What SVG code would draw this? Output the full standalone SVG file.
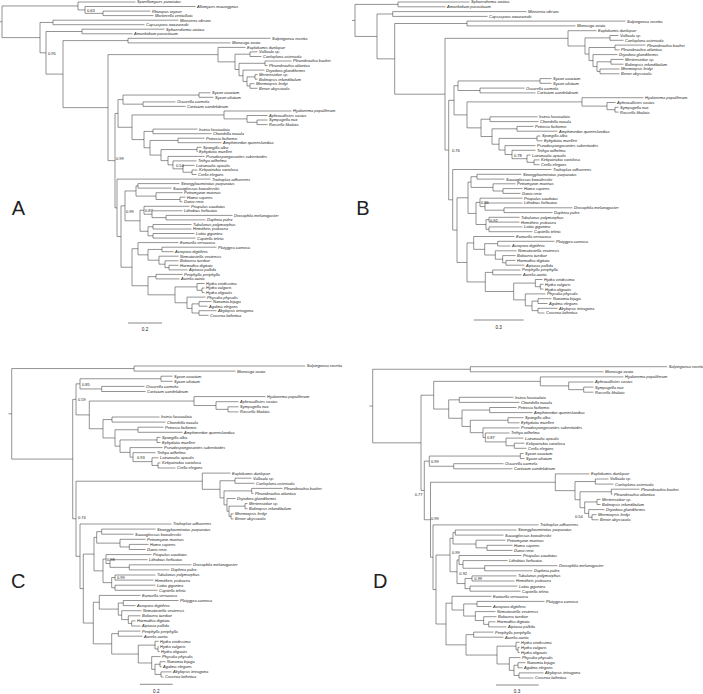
<svg xmlns="http://www.w3.org/2000/svg" width="703" height="694" viewBox="0 0 703 694">
<style>
.e path{fill:none;stroke:#3a3a3a;stroke-width:0.55}
text{font-family:"Liberation Sans",Arial,sans-serif;fill:#222}
.sp text{font-size:4px;font-style:italic}
.bs text{font-size:4px}
.sc text{font-size:4.6px;text-anchor:middle}
.sc path{stroke:#3a3a3a;stroke-width:0.6}
.pl text{font-size:20px;text-anchor:middle}
</style>
<rect width="703" height="694" fill="#fff"/>
<g class="e" id="edges">
<path id="edgesA" d="M0 21.8H2M2 5.96V37.63M2 5.96H78M2 37.63H40M78 2V9.93M78 2H135.5M78 9.93H85M85 6.5V13.35M85 6.5H195.5M85 13.35H103M103 11.1V15.6M103 11.1H150.5M103 15.6H153.5M40 22.45V52.81M40 22.45H53M40 52.81H46M53 20.2V24.7M53 20.2H178.5M53 24.7H144.5M46 31.5V74.12M46 31.5H82M46 74.12H63M82 29.2V33.8M82 29.2H164.5M82 33.8H132.5M63 40.6V107.64M63 40.6H128M63 107.64H108M128 38.3V42.9M128 38.3H270.5M128 42.9H230.5M108 54.64V160.64M108 54.64H218M108 160.64H115M218 47.4V61.87M218 47.4H245.5M218 61.87H235M235 54.2V69.54M235 54.2H250M235 69.54H239M250 51.9V56.5M250 51.9H257.5M250 56.5H261.5M239 63.3V75.78M239 63.3H265M239 75.78H243M265 61V65.6M265 61H291.5M265 65.6H267.5M243 70.1V81.45M243 70.1H264.5M243 81.45H247M247 76.9V86M247 76.9H255M247 86H250M255 74.6V79.2M255 74.6H257.5M255 79.2H257.5M250 83.7V88.3M250 83.7H254.5M250 88.3H257.5M115 113.44V207.83M115 113.44H118M115 207.83H117M118 99.6V127.27M118 99.6H123M118 127.27H132M123 95.05V104.15M123 95.05H199M123 104.15H143M199 92.8V97.3M199 92.8H210.5M199 97.3H213.5M143 101.9V106.4M143 101.9H175.5M143 106.4H185.5M132 114.95V139.59M132 114.95H224M132 139.59H144M224 111V118.9M224 111H291.5M224 118.9H247M247 115.5V122.3M247 115.5H267.5M247 122.3H257M257 120V124.6M257 120H267.5M257 124.6H267.5M144 131.4V147.77M144 131.4H153M144 147.77H150M153 129.1V133.7M153 129.1H197.5M153 133.7H211.5M150 140.45V155.09M150 140.45H178M150 155.09H161M178 138.2V142.7M178 138.2H204.5M178 142.7H221.5M161 149.55V160.63M161 149.55H197M161 160.63H168M197 147.3V151.8M197 147.3H201.5M197 151.8H197.5M168 156.4V164.86M168 156.4H204.5M168 164.86H173M173 160.9V168.83M173 160.9H196.5M173 168.83H183M183 165.4V172.25M183 165.4H194.5M183 172.25H192M192 170V174.5M192 170H197.5M192 174.5H196.5M117 179.1V236.55M117 179.1H210.5M117 236.55H121M121 205.87V267.23M121 205.87H125M121 267.23H132M125 190.98V220.77M125 190.98H136M125 220.77H140M136 185.85V196.1M136 185.85H138M136 196.1H156M138 183.6V188.1M138 183.6H179.5M138 188.1H171.5M156 192.7V199.5M156 192.7H182.5M156 199.5H180M180 197.2V201.8M180 197.2H185.5M180 201.8H182.5M140 210.26V231.28M140 210.26H144M140 231.28H148M144 206.3V214.23M144 206.3H189.5M144 214.23H152M152 210.8V217.65M152 210.8H182.5M152 217.65H166M166 215.4V219.9M166 215.4H232.5M166 219.9H205.5M148 226.75V235.8M148 226.75H153M148 235.8H153M153 224.5V229M153 224.5H191.5M153 229H191.5M153 233.5V238.1M153 233.5H194.5M153 238.1H195.5M132 248.71V285.74M132 248.71H138M132 285.74H148M138 242.6V254.83M138 242.6H178.5M138 254.83H148M148 249.45V260.2M148 249.45H162M148 260.2H159M162 247.2V251.7M162 247.2H216.5M162 251.7H173.5M159 256.2V264.2M159 256.2H178.5M159 264.2H165M165 260.8V267.6M165 260.8H178.5M165 267.6H169M169 265.3V269.9M169 265.3H178.5M169 269.9H187.5M148 276.65V294.84M148 276.65H156M148 294.84H175M156 274.4V278.9M156 274.4H182.5M156 278.9H179.5M175 286.9V302.78M175 286.9H197M175 302.78H187M197 283.5V290.3M197 283.5H204.5M197 290.3H202M202 288V292.6M202 288H204.5M202 292.6H204.5M187 297.1V308.45M187 297.1H205.5M187 308.45H192M192 303.9V313M192 303.9H199M192 313H199M199 301.6V306.2M199 301.6H211.5M199 306.2H207.5M199 310.7V315.3M199 310.7H216.5M199 315.3H208.5"/>
<path id="edgesB" d="M352 20.41H355M355 4.4V36.43M355 4.4H398M355 36.43H377M398 2V6.8M398 2H469.5M398 6.8H445.5M377 14V58.85M377 14H392.7M377 58.85H394.7M392.7 11.6V16.4M392.7 11.6H526.5M392.7 16.4H487.5M394.7 23.5V94.2M394.7 23.5H467M394.7 94.2H445M467 21.1V25.9M467 21.1H625.5M467 25.9H575.5M445 38.34V150.05M445 38.34H568M445 150.05H448.7M568 30.7V45.98M568 30.7H596.5M568 45.98H585M585 37.9V54.05M585 37.9H610M585 54.05H589M610 35.5V40.3M610 35.5H618.5M610 40.3H623.5M589 47.5V60.6M589 47.5H615M589 60.6H593M615 45.1V49.9M615 45.1H645.5M615 49.9H619.5M593 54.6V66.6M593 54.6H617.5M593 66.6H597M597 61.8V71.4M597 61.8H611M597 71.4H600M611 59.4V64.2M611 59.4H623.5M611 64.2H623.5M600 69V73.8M600 69H619.5M600 73.8H619.5M448.7 100.3V199.8M448.7 100.3H454M448.7 199.8H452.7M454 85.73V114.88M454 85.73H458M454 114.88H467M458 80.95V90.5M458 80.95H540M458 90.5H480M540 78.6V83.3M540 78.6H551.5M540 83.3H551.5M480 88.1V92.9M480 88.1H524.5M480 92.9H535.5M467 101.9V127.86M467 101.9H582M467 127.86H481M582 97.7V106.1M582 97.7H643.5M582 106.1H607M607 102.5V109.7M607 102.5H615.5M607 109.7H615M615 107.3V112.1M615 107.3H618.5M615 112.1H618.5M481 119.2V136.51M481 119.2H490M481 136.51H492M490 116.8V121.6M490 116.8H537.5M490 121.6H538.5M492 128.8V144.23M492 128.8H517M492 144.23H499M517 126.4V131.2M517 126.4H533.5M517 131.2H557.5M499 138.4V150.05M499 138.4H537M499 150.05H505M537 136V140.8M537 136H540.5M537 140.8H542.5M505 145.6V154.5M505 145.6H535.5M505 154.5H512M512 150.3V158.7M512 150.3H535.5M512 158.7H527M527 155.1V162.3M527 155.1H530.5M527 162.3H534M534 159.9V164.7M534 159.9H539.5M534 164.7H539.5M452.7 169.5V230.09M452.7 169.5H551.5M452.7 230.09H457M457 197.75V262.43M457 197.75H468M457 262.43H467M468 182.05V213.45M468 182.05H471M468 213.45H476M471 176.7V187.4M471 176.7H477M471 187.4H493M477 174.3V179.1M477 174.3H521.5M477 179.1H504.5M493 183.8V191M493 183.8H515.5M493 191H503M503 188.6V193.4M503 188.6H522.5M503 193.4H520.5M476 202.4V224.5M476 202.4H480M476 224.5H486M480 198.2V206.6M480 198.2H522.5M480 206.6H485M485 203V210.2M485 203H522.5M485 210.2H504M504 207.8V212.6M504 207.8H572.5M504 212.6H552.5M486 219.7V229.3M486 219.7H489M486 229.3H489M489 217.3V222.1M489 217.3H519.5M489 222.1H519.5M489 226.9V231.7M489 226.9H522.5M489 231.7H532.5M467 242.91V281.95M467 242.91H473.7M467 281.95H485.3M473.7 236.5V249.33M473.7 236.5H514.5M473.7 249.33H484.7M484.7 243.65V255M484.7 243.65H497.7M484.7 255H495.3M497.7 241.3V246M497.7 241.3H554.5M497.7 246H510.5M495.3 250.8V259.2M495.3 250.8H516.5M495.3 259.2H502.7M502.7 255.6V262.8M502.7 255.6H515.5M502.7 262.8H506M506 260.4V265.2M506 260.4H515.5M506 265.2H524.5M485.3 272.4V291.5M485.3 272.4H492.7M485.3 291.5H513.7M492.7 270V274.8M492.7 270H520.5M492.7 274.8H521.5M513.7 283.1V299.89M513.7 283.1H535.3M513.7 299.89H525.3M535.3 279.5V286.7M535.3 279.5H542.5M535.3 286.7H540.3M540.3 284.3V289.1M540.3 284.3H543.5M540.3 289.1H543.5M525.3 293.9V305.88M525.3 293.9H545.5M525.3 305.88H532M532 301.1V310.65M532 301.1H538M532 310.65H538M538 298.7V303.5M538 298.7H551.5M538 303.5H547.5M538 308.3V313M538 308.3H557.5M538 313H544.5"/>
<path id="edgesC" d="M8.5 413.81H11.7M11.7 368.55V459.07M11.7 368.55H134M11.7 459.07H72.7M134 366V371.1M134 366H305.2M134 371.1H235.5M72.7 399.38V518.76M72.7 399.38H76M72.7 518.76H76M76 383.85V414.9M76 383.85H80M76 414.9H89.3M80 378.75V388.95M80 378.75H161M80 388.95H101.7M161 376.2V381.3M161 376.2H172.5M161 381.3H172.5M101.7 386.4V391.5M101.7 386.4H144.5M101.7 391.5H145.5M89.3 401.06V428.75M89.3 401.06H194M89.3 428.75H103M194 396.6V405.53M194 396.6H265.5M194 405.53H216M216 401.7V409.35M216 401.7H238.5M216 409.35H228M228 406.8V411.9M228 406.8H238.5M228 411.9H238.5M103 419.55V437.96M103 419.55H112M103 437.96H115M112 417V422.1M112 417H159.5M112 422.1H165.5M115 429.75V446.16M115 429.75H138M115 446.16H120M138 427.2V432.3M138 427.2H163.5M138 432.3H182.5M120 439.95V452.38M120 439.95H157M120 452.38H130M157 437.4V442.5M157 437.4H160.5M157 442.5H160.5M130 447.6V457.16M130 447.6H162.5M130 457.16H133M133 452.7V461.63M133 452.7H155.5M133 461.63H152M152 457.8V465.45M152 457.8H158.5M152 465.45H158M158 462.9V468M158 462.9H160.5M158 468H175.5M76 481.21V556.3M76 481.21H202.3M76 556.3H80M202.3 473.1V489.32M202.3 473.1H230.5M202.3 489.32H220M220 480.75V497.89M220 480.75H235M220 497.89H224M235 478.2V483.3M235 478.2H251.5M235 483.3H254.5M224 490.9V504.88M224 490.9H251.7M224 504.88H227M251.7 488.4V493.4M251.7 488.4H282.5M251.7 493.4H253.5M227 498.5V511.25M227 498.5H235.5M227 511.25H229M229 506.15V516.35M229 506.15H245M229 516.35H231M245 503.6V508.7M245 503.6H247.5M245 508.7H247.5M231 513.8V518.9M231 513.8H233.5M231 518.9H233.5M80 524V588.59M80 524H171.5M80 588.59H83.3M83.3 554.12V623.05M83.3 554.12H94M83.3 623.05H93.3M94 537.39V570.86M94 537.39H96.7M94 570.86H103M96.7 531.65V543.13M96.7 531.65H101.7M96.7 543.13H120M101.7 529.1V534.2M101.7 529.1H155.5M101.7 534.2H133.5M120 539.3V546.95M120 539.3H145.5M120 546.95H129.3M129.3 544.4V549.5M129.3 544.4H148.5M129.3 549.5H145.5M103 559.06V582.65M103 559.06H106M103 582.65H111.7M106 554.6V563.53M106 554.6H151.5M106 563.53H110M110 559.7V567.35M110 559.7H147.5M110 567.35H129.3M129.3 564.8V569.9M129.3 564.8H191.5M129.3 569.9H169.5M111.7 577.55V587.75M111.7 577.55H115M111.7 587.75H115M115 575V580.1M115 575H155.5M115 580.1H153.5M115 585.2V590.3M115 585.2H155.5M115 590.3H157.5M93.3 602.25V643.85M93.3 602.25H99.3M93.3 643.85H111.7M99.3 595.4V609.1M99.3 595.4H140.5M99.3 609.1H118.3M118.3 603.05V615.16M118.3 603.05H123.3M118.3 615.16H121.7M123.3 600.5V605.6M123.3 600.5H178.5M123.3 605.6H135.5M121.7 610.7V619.63M121.7 610.7H141.5M121.7 619.63H128.3M128.3 615.8V623.45M128.3 615.8H140.5M128.3 623.45H131.7M131.7 620.9V626M131.7 620.9H135.5M131.7 626H140.5M111.7 633.65V654.05M111.7 633.65H118.3M111.7 654.05H138.3M118.3 631.1V636.2M118.3 631.1H140.5M118.3 636.2H142.5M138.3 645.13V662.98M138.3 645.13H155M138.3 662.98H151.7M155 641.3V648.95M155 641.3H158.5M155 648.95H158M158 646.4V651.5M158 646.4H158.5M158 651.5H159.5M151.7 656.6V669.35M151.7 656.6H160.5M151.7 669.35H155M155 664.25V674.45M155 664.25H160M155 674.45H161M160 661.7V666.8M160 661.7H165.5M160 666.8H161.5M161 671.9V677M161 671.9H171.5M161 677H163.5"/>
<path id="edgesD" d="M369.3 406.04H372.7M372.7 369.25V442.83M372.7 369.25H470.3M372.7 442.83H421M470.3 366.7V371.8M470.3 366.7H667.2M470.3 371.8H603.5M421 395.2V490.45M421 395.2H433.7M421 490.45H424.3M433.7 381.36V409.05M433.7 381.36H540.3M433.7 409.05H448.7M540.3 376.9V385.83M540.3 376.9H623.5M540.3 385.83H568.7M568.7 382V389.65M568.7 382H593.5M568.7 389.65H583.7M583.7 387.1V392.2M583.7 387.1H593.5M583.7 392.2H593.5M448.7 399.85V418.26M448.7 399.85H459.3M448.7 418.26H462M459.3 397.3V402.4M459.3 397.3H513.5M459.3 402.4H519.5M462 410.05V426.46M462 410.05H489.7M462 426.46H470.3M489.7 407.5V412.6M489.7 407.5H516.5M489.7 412.6H532.5M470.3 420.25V432.68M470.3 420.25H508M470.3 432.68H483M508 417.7V422.8M508 417.7H523.5M508 422.8H519.5M483 427.9V437.46M483 427.9H519.5M483 437.46H485.3M485.3 433V441.93M485.3 433H509.5M485.3 441.93H506M506 438.1V445.75M506 438.1H523.5M506 445.75H514.3M514.3 443.2V448.3M514.3 443.2H524.5M514.3 448.3H526.5M424.3 461.15V519.74M424.3 461.15H429.3M424.3 519.74H430.5M429.3 456.05V466.25M429.3 456.05H520.3M429.3 466.25H453.7M520.3 453.5V458.6M520.3 453.5H523.5M520.3 458.6H524.5M453.7 463.7V468.8M453.7 463.7H503.5M453.7 468.8H512.5M430.5 482.27V557.21M430.5 482.27H555.3M430.5 557.21H433M555.3 473.9V490.64M555.3 473.9H589.5M555.3 490.64H575M575 481.55V499.72M575 481.55H595.3M575 499.72H580M595.3 479V484.1M595.3 479H608.5M595.3 484.1H613.5M580 491.75V507.69M580 491.75H611.3M580 507.69H584.7M611.3 489.2V494.3M611.3 489.2H639.5M611.3 494.3H612.5M584.7 501.95V513.43M584.7 501.95H597M584.7 513.43H588.7M597 499.4V504.5M597 499.4H600.5M597 504.5H600.5M588.7 509.6V517.25M588.7 509.6H604.5M588.7 517.25H592M592 514.7V519.8M592 514.7H596.5M592 519.8H598.5M433 524.9V589.52M433 524.9H538.5M433 589.52H436M436 555.03V624M436 555.03H450M436 624H446M450 538.29V571.76M450 538.29H453M450 571.76H457M453 532.55V544.03M453 532.55H455.3M453 544.03H476M455.3 530V535.1M455.3 530H516.5M455.3 535.1H503.5M476 540.2V547.85M476 540.2H505.5M476 547.85H487M487 545.3V550.4M487 545.3H512.5M487 550.4H512.5M457 559.96V583.55M457 559.96H459M457 583.55H465M459 555.5V564.43M459 555.5H521.5M459 564.43H463M463 560.6V568.25M463 560.6H507.5M463 568.25H484.7M484.7 565.7V570.8M484.7 565.7H557.5M484.7 570.8H532.5M465 578.45V588.65M465 578.45H472M465 588.65H470M472 575.9V581M472 575.9H516.5M472 581H514.5M470 586.1V591.2M470 586.1H517.5M470 591.2H520.5M446 603.15V644.85M446 603.15H452M446 644.85H466M452 596.3V610M452 596.3H491.5M452 610H463.7M463.7 603.95V616.06M463.7 603.95H477M463.7 616.06H475.3M477 601.4V606.5M477 601.4H544.5M477 606.5H491.5M475.3 611.6V620.53M475.3 611.6H495.5M475.3 620.53H483.7M483.7 616.7V624.35M483.7 616.7H496.5M483.7 624.35H488.7M488.7 621.8V626.9M488.7 621.8H495.5M488.7 626.9H506.5M466 634.65V655.05M466 634.65H473.7M466 655.05H497M473.7 632.1V637.2M473.7 632.1H493.5M473.7 637.2H503.5M497 646.13V663.98M497 646.13H516M497 663.98H509.3M516 642.3V649.95M516 642.3H519.5M516 649.95H518M518 647.4V652.5M518 647.4H519.5M518 652.5H519.5M509.3 657.6V670.35M509.3 657.6H520.5M509.3 670.35H514M514 665.25V675.45M514 665.25H518M514 675.45H519M518 662.7V667.8M518 662.7H525.5M518 667.8H522.5M519 672.9V678M519 672.9H543.5M519 678H533.5"/>
</g>
<g class="sp" id="leavesA">
<g id="a1"><text x="137" y="3.4">Spizellomyces punctatus</text></g>
<g id="a2"><text x="197" y="7.9">Allomyces macrogynus</text></g>
<g id="a3"><text x="152" y="12.5">Rhizopus oryzae</text></g>
<g id="a4"><text x="155" y="17">Mortierella verticillata</text></g>
<g id="a5"><text x="180" y="21.6">Ministeria vibrans</text></g>
<g id="a6"><text x="146" y="26.1">Capsaspora owczarzaki</text></g>
<g id="a7"><text x="166" y="30.6">Sphaeroforma arctica</text></g>
<g id="a8"><text x="134" y="35.2">Amoebidium parasiticum</text></g>
<g id="a9"><text x="272" y="39.7">Salpingoeca rosetta</text></g>
<g id="a10"><text x="232" y="44.3">Monosiga ovata</text></g>
<g id="a11"><text x="247" y="48.8">Euplokamis dunlapae</text></g>
<g id="a12"><text x="259" y="53.3">Vallicula sp.</text></g>
<g id="a13"><text x="263" y="57.9">Coeloplana astericola</text></g>
<g id="a14"><text x="293" y="62.4">Pleurobrachia bachei</text></g>
<g id="a15"><text x="269" y="67">Pleurobrachia atlantica</text></g>
<g id="a16"><text x="266" y="71.5">Dryodora glandiformis</text></g>
<g id="a17"><text x="259" y="76">Mertensiidae sp.</text></g>
<g id="a18"><text x="259" y="80.6">Bolinopsis infundibulum</text></g>
<g id="a19"><text x="256" y="85.1">Mnemiopsis leidyi</text></g>
<g id="a20"><text x="259" y="89.7">Beroe abyssicola</text></g>
<g id="a21"><text x="212" y="94.2">Sycon coactum</text></g>
<g id="a22"><text x="215" y="98.7">Sycon ciliatum</text></g>
<g id="a23"><text x="177" y="103.3">Oscarella carmela</text></g>
<g id="a24"><text x="187" y="107.8">Corticium candelabrum</text></g>
<g id="a25"><text x="293" y="112.4">Hyalonema populiferum</text></g>
<g id="a26"><text x="269" y="116.9">Aphrocallistes vastus</text></g>
<g id="a27"><text x="269" y="121.4">Sympagella nux</text></g>
<g id="a28"><text x="269" y="126">Rossella fibulata</text></g>
<g id="a29"><text x="199" y="130.5">Ircinia fasciculata</text></g>
<g id="a30"><text x="213" y="135.1">Chondrilla nucula</text></g>
<g id="a31"><text x="206" y="139.6">Petrosia ficiformis</text></g>
<g id="a32"><text x="223" y="144.1">Amphimedon queenslandica</text></g>
<g id="a33"><text x="203" y="148.7">Spongilla alba</text></g>
<g id="a34"><text x="199" y="153.2">Ephydatia muelleri</text></g>
<g id="a35"><text x="206" y="157.8">Pseudospongosorites suberitoides</text></g>
<g id="a36"><text x="198" y="162.3">Tethya wilhelma</text></g>
<g id="a37"><text x="196" y="166.8">Latrunculia apicalis</text></g>
<g id="a38"><text x="199" y="171.4">Kirkpatrickia variolosa</text></g>
<g id="a39"><text x="198" y="175.9">Crella elegans</text></g>
<g id="a40"><text x="212" y="180.5">Trichoplax adhaerens</text></g>
<g id="a41"><text x="181" y="185">Strongylocentrotus purpuratus</text></g>
<g id="a42"><text x="173" y="189.5">Saccoglossus kowalevskii</text></g>
<g id="a43"><text x="184" y="194.1">Petromyzon marinus</text></g>
<g id="a44"><text x="187" y="198.6">Homo sapiens</text></g>
<g id="a45"><text x="184" y="203.2">Danio rerio</text></g>
<g id="a46"><text x="191" y="207.7">Priapulus caudatus</text></g>
<g id="a47"><text x="184" y="212.2">Lithobius forficatus</text></g>
<g id="a48"><text x="234" y="216.8">Drosophila melanogaster</text></g>
<g id="a49"><text x="207" y="221.3">Daphnia pulex</text></g>
<g id="a50"><text x="193" y="225.9">Tubulanus polymorphus</text></g>
<g id="a51"><text x="193" y="230.4">Hemithiris psittacea</text></g>
<g id="a52"><text x="196" y="234.9">Lottia gigantea</text></g>
<g id="a53"><text x="197" y="239.5">Capitella teleta</text></g>
<g id="a54"><text x="180" y="244">Eunicella verrucosa</text></g>
<g id="a55"><text x="218" y="248.6">Platygyra carnosa</text></g>
<g id="a56"><text x="175" y="253.1">Acropora digitifera</text></g>
<g id="a57"><text x="180" y="257.6">Nematostella vectensis</text></g>
<g id="a58"><text x="180" y="262.2">Bolocera tuediae</text></g>
<g id="a59"><text x="180" y="266.7">Hormathia digitata</text></g>
<g id="a60"><text x="189" y="271.3">Aiptasia pallida</text></g>
<g id="a61"><text x="184" y="275.8">Periphylla periphylla</text></g>
<g id="a62"><text x="181" y="280.3">Aurelia aurita</text></g>
<g id="a63"><text x="206" y="284.9">Hydra viridissima</text></g>
<g id="a64"><text x="206" y="289.4">Hydra vulgaris</text></g>
<g id="a65"><text x="206" y="294">Hydra oligactis</text></g>
<g id="a66"><text x="207" y="298.5">Physalia physalis</text></g>
<g id="a67"><text x="213" y="303">Nanomia bijuga</text></g>
<g id="a68"><text x="209" y="307.6">Agalma elegans</text></g>
<g id="a69"><text x="218" y="312.1">Abylopsis tetragona</text></g>
<g id="a70"><text x="210" y="316.7">Craseoa lathetica</text></g>
</g>
<g class="sp" id="leavesB">
<g id="b1"><text x="471" y="3.4">Sphaeroforma arctica</text></g>
<g id="b2"><text x="447" y="8.2">Amoebidium parasiticum</text></g>
<g id="b3"><text x="528" y="13">Ministeria vibrans</text></g>
<g id="b4"><text x="489" y="17.8">Capsaspora owczarzaki</text></g>
<g id="b5"><text x="627" y="22.5">Salpingoeca rosetta</text></g>
<g id="b6"><text x="577" y="27.3">Monosiga ovata</text></g>
<g id="b7"><text x="598" y="32.1">Euplokamis dunlapae</text></g>
<g id="b8"><text x="620" y="36.9">Vallicula sp.</text></g>
<g id="b9"><text x="625" y="41.7">Coeloplana astericola</text></g>
<g id="b10"><text x="647" y="46.5">Pleurobrachia bachei</text></g>
<g id="b11"><text x="621" y="51.3">Pleurobrachia atlantica</text></g>
<g id="b12"><text x="619" y="56">Dryodora glandiformis</text></g>
<g id="b13"><text x="625" y="60.8">Mertensiidae sp.</text></g>
<g id="b14"><text x="625" y="65.6">Bolinopsis infundibulum</text></g>
<g id="b15"><text x="621" y="70.4">Mnemiopsis leidyi</text></g>
<g id="b16"><text x="621" y="75.2">Beroe abyssicola</text></g>
<g id="b17"><text x="553" y="80">Sycon coactum</text></g>
<g id="b18"><text x="553" y="84.7">Sycon ciliatum</text></g>
<g id="b19"><text x="526" y="89.5">Oscarella carmela</text></g>
<g id="b20"><text x="537" y="94.3">Corticium candelabrum</text></g>
<g id="b21"><text x="645" y="99.1">Hyalonema populiferum</text></g>
<g id="b22"><text x="617" y="103.9">Aphrocallistes vastus</text></g>
<g id="b23"><text x="620" y="108.7">Sympagella nux</text></g>
<g id="b24"><text x="620" y="113.5">Rossella fibulata</text></g>
<g id="b25"><text x="539" y="118.2">Ircinia fasciculata</text></g>
<g id="b26"><text x="540" y="123">Chondrilla nucula</text></g>
<g id="b27"><text x="535" y="127.8">Petrosia ficiformis</text></g>
<g id="b28"><text x="559" y="132.6">Amphimedon queenslandica</text></g>
<g id="b29"><text x="542" y="137.4">Spongilla alba</text></g>
<g id="b30"><text x="544" y="142.2">Ephydatia muelleri</text></g>
<g id="b31"><text x="537" y="147">Pseudospongosorites suberitoides</text></g>
<g id="b32"><text x="537" y="151.7">Tethya wilhelma</text></g>
<g id="b33"><text x="532" y="156.5">Latrunculia apicalis</text></g>
<g id="b34"><text x="541" y="161.3">Kirkpatrickia variolosa</text></g>
<g id="b35"><text x="541" y="166.1">Crella elegans</text></g>
<g id="b36"><text x="553" y="170.9">Trichoplax adhaerens</text></g>
<g id="b37"><text x="523" y="175.7">Strongylocentrotus purpuratus</text></g>
<g id="b38"><text x="506" y="180.5">Saccoglossus kowalevskii</text></g>
<g id="b39"><text x="517" y="185.2">Petromyzon marinus</text></g>
<g id="b40"><text x="524" y="190">Homo sapiens</text></g>
<g id="b41"><text x="522" y="194.8">Danio rerio</text></g>
<g id="b42"><text x="524" y="199.6">Priapulus caudatus</text></g>
<g id="b43"><text x="524" y="204.4">Lithobius forficatus</text></g>
<g id="b44"><text x="574" y="209.2">Drosophila melanogaster</text></g>
<g id="b45"><text x="554" y="214">Daphnia pulex</text></g>
<g id="b46"><text x="521" y="218.7">Tubulanus polymorphus</text></g>
<g id="b47"><text x="521" y="223.5">Hemithiris psittacea</text></g>
<g id="b48"><text x="524" y="228.3">Lottia gigantea</text></g>
<g id="b49"><text x="534" y="233.1">Capitella teleta</text></g>
<g id="b50"><text x="516" y="237.9">Eunicella verrucosa</text></g>
<g id="b51"><text x="556" y="242.7">Platygyra carnosa</text></g>
<g id="b52"><text x="512" y="247.4">Acropora digitifera</text></g>
<g id="b53"><text x="518" y="252.2">Nematostella vectensis</text></g>
<g id="b54"><text x="517" y="257">Bolocera tuediae</text></g>
<g id="b55"><text x="517" y="261.8">Hormathia digitata</text></g>
<g id="b56"><text x="526" y="266.6">Aiptasia pallida</text></g>
<g id="b57"><text x="522" y="271.4">Periphylla periphylla</text></g>
<g id="b58"><text x="523" y="276.2">Aurelia aurita</text></g>
<g id="b59"><text x="544" y="280.9">Hydra viridissima</text></g>
<g id="b60"><text x="545" y="285.7">Hydra vulgaris</text></g>
<g id="b61"><text x="545" y="290.5">Hydra oligactis</text></g>
<g id="b62"><text x="547" y="295.3">Physalia physalis</text></g>
<g id="b63"><text x="553" y="300.1">Nanomia bijuga</text></g>
<g id="b64"><text x="549" y="304.9">Agalma elegans</text></g>
<g id="b65"><text x="559" y="309.7">Abylopsis tetragona</text></g>
<g id="b66"><text x="546" y="314.4">Craseoa lathetica</text></g>
</g>
<g class="sp" id="leavesC">
<g id="c1"><text x="306.7" y="367.4">Salpingoeca rosetta</text></g>
<g id="c2"><text x="237" y="372.5">Monosiga ovata</text></g>
<g id="c3"><text x="174" y="377.6">Sycon coactum</text></g>
<g id="c4"><text x="174" y="382.7">Sycon ciliatum</text></g>
<g id="c5"><text x="146" y="387.8">Oscarella carmela</text></g>
<g id="c6"><text x="147" y="392.9">Corticium candelabrum</text></g>
<g id="c7"><text x="267" y="398">Hyalonema populiferum</text></g>
<g id="c8"><text x="240" y="403.1">Aphrocallistes vastus</text></g>
<g id="c9"><text x="240" y="408.2">Sympagella nux</text></g>
<g id="c10"><text x="240" y="413.3">Rossella fibulata</text></g>
<g id="c11"><text x="161" y="418.4">Ircinia fasciculata</text></g>
<g id="c12"><text x="167" y="423.5">Chondrilla nucula</text></g>
<g id="c13"><text x="165" y="428.6">Petrosia ficiformis</text></g>
<g id="c14"><text x="184" y="433.7">Amphimedon queenslandica</text></g>
<g id="c15"><text x="162" y="438.8">Spongilla alba</text></g>
<g id="c16"><text x="162" y="443.9">Ephydatia muelleri</text></g>
<g id="c17"><text x="164" y="449">Pseudospongosorites suberitoides</text></g>
<g id="c18"><text x="157" y="454.1">Tethya wilhelma</text></g>
<g id="c19"><text x="160" y="459.2">Latrunculia apicalis</text></g>
<g id="c20"><text x="162" y="464.3">Kirkpatrickia variolosa</text></g>
<g id="c21"><text x="177" y="469.4">Crella elegans</text></g>
<g id="c22"><text x="232" y="474.5">Euplokamis dunlapae</text></g>
<g id="c23"><text x="253" y="479.6">Vallicula sp.</text></g>
<g id="c24"><text x="256" y="484.7">Coeloplana astericola</text></g>
<g id="c25"><text x="284" y="489.8">Pleurobrachia bachei</text></g>
<g id="c26"><text x="255" y="494.8">Pleurobrachia atlantica</text></g>
<g id="c27"><text x="237" y="499.9">Dryodora glandiformis</text></g>
<g id="c28"><text x="249" y="505">Mertensiidae sp.</text></g>
<g id="c29"><text x="249" y="510.1">Bolinopsis infundibulum</text></g>
<g id="c30"><text x="235" y="515.2">Mnemiopsis leidyi</text></g>
<g id="c31"><text x="235" y="520.3">Beroe abyssicola</text></g>
<g id="c32"><text x="173" y="525.4">Trichoplax adhaerens</text></g>
<g id="c33"><text x="157" y="530.5">Strongylocentrotus purpuratus</text></g>
<g id="c34"><text x="135" y="535.6">Saccoglossus kowalevskii</text></g>
<g id="c35"><text x="147" y="540.7">Petromyzon marinus</text></g>
<g id="c36"><text x="150" y="545.8">Homo sapiens</text></g>
<g id="c37"><text x="147" y="550.9">Danio rerio</text></g>
<g id="c38"><text x="153" y="556">Priapulus caudatus</text></g>
<g id="c39"><text x="149" y="561.1">Lithobius forficatus</text></g>
<g id="c40"><text x="193" y="566.2">Drosophila melanogaster</text></g>
<g id="c41"><text x="171" y="571.3">Daphnia pulex</text></g>
<g id="c42"><text x="157" y="576.4">Tubulanus polymorphus</text></g>
<g id="c43"><text x="155" y="581.5">Hemithiris psittacea</text></g>
<g id="c44"><text x="157" y="586.6">Lottia gigantea</text></g>
<g id="c45"><text x="159" y="591.7">Capitella teleta</text></g>
<g id="c46"><text x="142" y="596.8">Eunicella verrucosa</text></g>
<g id="c47"><text x="180" y="601.9">Platygyra carnosa</text></g>
<g id="c48"><text x="137" y="607">Acropora digitifera</text></g>
<g id="c49"><text x="143" y="612.1">Nematostella vectensis</text></g>
<g id="c50"><text x="142" y="617.2">Bolocera tuediae</text></g>
<g id="c51"><text x="137" y="622.3">Hormathia digitata</text></g>
<g id="c52"><text x="142" y="627.4">Aiptasia pallida</text></g>
<g id="c53"><text x="142" y="632.5">Periphylla periphylla</text></g>
<g id="c54"><text x="144" y="637.6">Aurelia aurita</text></g>
<g id="c55"><text x="160" y="642.7">Hydra viridissima</text></g>
<g id="c56"><text x="160" y="647.8">Hydra vulgaris</text></g>
<g id="c57"><text x="161" y="652.9">Hydra oligactis</text></g>
<g id="c58"><text x="162" y="658">Physalia physalis</text></g>
<g id="c59"><text x="167" y="663.1">Nanomia bijuga</text></g>
<g id="c60"><text x="163" y="668.2">Agalma elegans</text></g>
<g id="c61"><text x="173" y="673.3">Abylopsis tetragona</text></g>
<g id="c62"><text x="165" y="678.4">Craseoa lathetica</text></g>
</g>
<g class="sp" id="leavesD">
<g id="d1"><text x="668.7" y="368.1">Salpingoeca rosetta</text></g>
<g id="d2"><text x="605" y="373.2">Monosiga ovata</text></g>
<g id="d3"><text x="625" y="378.3">Hyalonema populiferum</text></g>
<g id="d4"><text x="595" y="383.4">Aphrocallistes vastus</text></g>
<g id="d5"><text x="595" y="388.5">Sympagella nux</text></g>
<g id="d6"><text x="595" y="393.6">Rossella fibulata</text></g>
<g id="d7"><text x="515" y="398.7">Ircinia fasciculata</text></g>
<g id="d8"><text x="521" y="403.8">Chondrilla nucula</text></g>
<g id="d9"><text x="518" y="408.9">Petrosia ficiformis</text></g>
<g id="d10"><text x="534" y="414">Amphimedon queenslandica</text></g>
<g id="d11"><text x="525" y="419.1">Spongilla alba</text></g>
<g id="d12"><text x="521" y="424.2">Ephydatia muelleri</text></g>
<g id="d13"><text x="521" y="429.3">Pseudospongosorites suberitoides</text></g>
<g id="d14"><text x="511" y="434.4">Tethya wilhelma</text></g>
<g id="d15"><text x="525" y="439.5">Latrunculia apicalis</text></g>
<g id="d16"><text x="526" y="444.6">Kirkpatrickia variolosa</text></g>
<g id="d17"><text x="528" y="449.7">Crella elegans</text></g>
<g id="d18"><text x="525" y="454.9">Sycon coactum</text></g>
<g id="d19"><text x="526" y="460">Sycon ciliatum</text></g>
<g id="d20"><text x="505" y="465.1">Oscarella carmela</text></g>
<g id="d21"><text x="514" y="470.2">Corticium candelabrum</text></g>
<g id="d22"><text x="591" y="475.3">Euplokamis dunlapae</text></g>
<g id="d23"><text x="610" y="480.4">Vallicula sp.</text></g>
<g id="d24"><text x="615" y="485.5">Coeloplana astericola</text></g>
<g id="d25"><text x="641" y="490.6">Pleurobrachia bachei</text></g>
<g id="d26"><text x="614" y="495.7">Pleurobrachia atlantica</text></g>
<g id="d27"><text x="602" y="500.8">Mertensiidae sp.</text></g>
<g id="d28"><text x="602" y="505.9">Bolinopsis infundibulum</text></g>
<g id="d29"><text x="606" y="511">Dryodora glandiformis</text></g>
<g id="d30"><text x="598" y="516.1">Mnemiopsis leidyi</text></g>
<g id="d31"><text x="600" y="521.2">Beroe abyssicola</text></g>
<g id="d32"><text x="540" y="526.3">Trichoplax adhaerens</text></g>
<g id="d33"><text x="518" y="531.4">Strongylocentrotus purpuratus</text></g>
<g id="d34"><text x="505" y="536.5">Saccoglossus kowalevskii</text></g>
<g id="d35"><text x="507" y="541.6">Petromyzon marinus</text></g>
<g id="d36"><text x="514" y="546.7">Homo sapiens</text></g>
<g id="d37"><text x="514" y="551.8">Danio rerio</text></g>
<g id="d38"><text x="523" y="556.9">Priapulus caudatus</text></g>
<g id="d39"><text x="509" y="562">Lithobius forficatus</text></g>
<g id="d40"><text x="559" y="567.1">Drosophila melanogaster</text></g>
<g id="d41"><text x="534" y="572.2">Daphnia pulex</text></g>
<g id="d42"><text x="518" y="577.3">Tubulanus polymorphus</text></g>
<g id="d43"><text x="516" y="582.4">Hemithiris psittacea</text></g>
<g id="d44"><text x="519" y="587.5">Lottia gigantea</text></g>
<g id="d45"><text x="522" y="592.6">Capitella teleta</text></g>
<g id="d46"><text x="493" y="597.7">Eunicella verrucosa</text></g>
<g id="d47"><text x="546" y="602.8">Platygyra carnosa</text></g>
<g id="d48"><text x="493" y="607.9">Acropora digitifera</text></g>
<g id="d49"><text x="497" y="613">Nematostella vectensis</text></g>
<g id="d50"><text x="498" y="618.1">Bolocera tuediae</text></g>
<g id="d51"><text x="497" y="623.2">Hormathia digitata</text></g>
<g id="d52"><text x="508" y="628.3">Aiptasia pallida</text></g>
<g id="d53"><text x="495" y="633.5">Periphylla periphylla</text></g>
<g id="d54"><text x="505" y="638.6">Aurelia aurita</text></g>
<g id="d55"><text x="521" y="643.7">Hydra viridissima</text></g>
<g id="d56"><text x="521" y="648.8">Hydra vulgaris</text></g>
<g id="d57"><text x="521" y="653.9">Hydra oligactis</text></g>
<g id="d58"><text x="522" y="659">Physalia physalis</text></g>
<g id="d59"><text x="527" y="664.1">Nanomia bijuga</text></g>
<g id="d60"><text x="524" y="669.2">Agalma elegans</text></g>
<g id="d61"><text x="545" y="674.3">Abylopsis tetragona</text></g>
<g id="d62"><text x="535" y="679.4">Craseoa lathetica</text></g>
</g>
<g class="bs" id="support">
<text x="87" y="11.5">0.63</text>
<text x="48" y="54.8">0.95</text>
<text x="116" y="159.5">0.99</text>
<text x="176" y="167">0.54</text>
<text x="126" y="213">0.99</text>
<text x="145" y="212">0.87</text>
<text x="452" y="151.5">0.76</text>
<text x="514" y="156.5">0.78</text>
<text x="481" y="203.8">0.86</text>
<text x="490" y="221.5">0.92</text>
<text x="82" y="385.5">0.85</text>
<text x="78" y="400.5">0.59</text>
<text x="137" y="459.2">0.93</text>
<text x="78" y="518.8">0.74</text>
<text x="107" y="560.8">0.98</text>
<text x="117" y="579.3">0.99</text>
<text x="487" y="438.5">0.87</text>
<text x="431" y="462.5">0.99</text>
<text x="414.7" y="495.5">0.77</text>
<text x="431" y="519.8">0.99</text>
<text x="575" y="517.5">0.54</text>
<text x="452" y="553.5">0.99</text>
<text x="459.3" y="574.8">0.92</text>
<text x="474.3" y="579.8">0.99</text>
</g>
<g class="sc" id="scalebars">
<path d="M128 323H162M473.7 320H523.7M140 684.3H172.7M496 685H538.7"/>
<text x="145" y="330.5">0.2</text>
<text x="498.7" y="328.5">0.3</text>
<text x="156.3" y="692.8">0.2</text>
<text x="517" y="693.2">0.3</text>
</g>
<g class="pl" id="panel-labels">
<text x="18.5" y="215">A</text>
<text x="363" y="215">B</text>
<text x="18.3" y="588">C</text>
<text x="380.3" y="588">D</text>
</g>
</svg>
